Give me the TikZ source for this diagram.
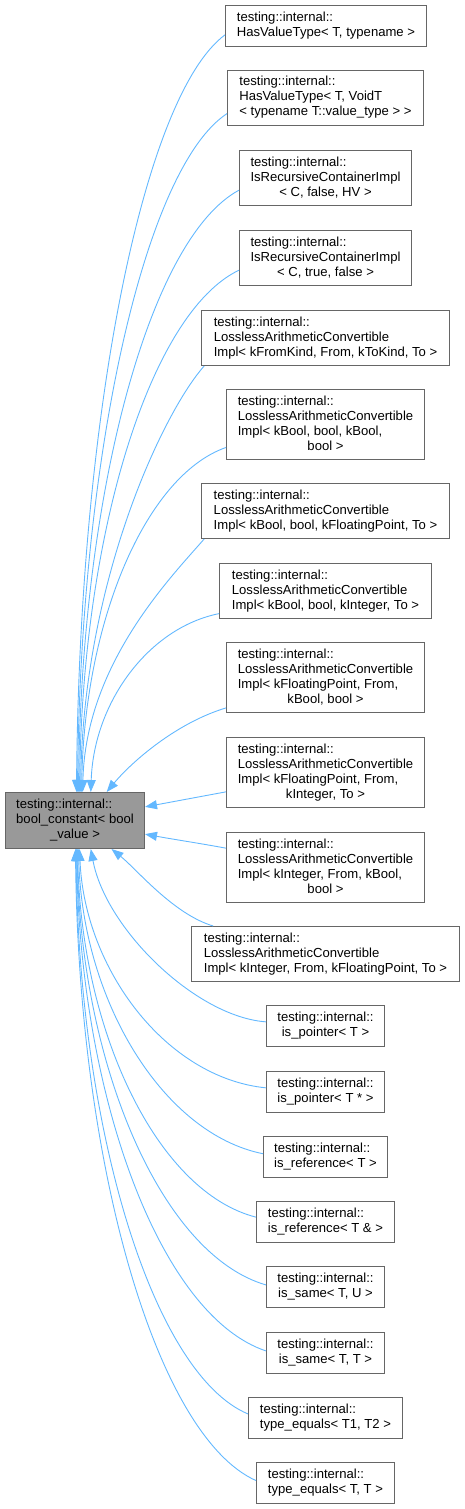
\documentclass[tikz,border=0pt]{standalone}
\usepackage{fontspec}
\setmainfont{Liberation Sans}
\usetikzlibrary{arrows.meta}

\definecolor{edgeblue}{HTML}{63B8FF}
\definecolor{boxline}{HTML}{666666}
\definecolor{basefill}{HTML}{999999}
\newcommand{\lbl}[2]{\begin{tabular}{@{}l@{}}#1\\\multicolumn{1}{@{}c@{}}{#2}\end{tabular}}

\begin{document}
\begin{tikzpicture}[x=1pt,y=-1pt,
		cls/.style={draw=boxline,fill=white,line width=1pt,anchor=north west,inner sep=0pt,
			font=\fontsize{13.1}{15}\selectfont},
		base/.style={cls,fill=basefill},
		derived/.style={draw=edgeblue,line width=0.9pt,-{Triangle[length=12pt,width=9pt]}}]
			\useasboundingbox (0,0) rectangle (464,1509);
			\node[base, minimum width=139pt, minimum height=56pt] (n0) at (5  ,  792) {\lbl{testing::internal::\\bool\_constant< bool}{\_value >}};
			\node[cls, minimum width=201pt, minimum height=41pt] (n1)  at (225,    5) {\lbl{testing::internal::}{HasValueType< T, typename >}};
			\node[cls, minimum width=196pt, minimum height=55pt] (n2)  at (227,   70) {\lbl{testing::internal::\\HasValueType< T, VoidT}{< typename T::value\_type > >}};
			\node[cls, minimum width=172pt, minimum height=55pt] (n3)  at (239,  150) {\lbl{testing::internal::\\IsRecursiveContainerImpl}{< C, false, HV >}};
			\node[cls, minimum width=172pt, minimum height=55pt] (n4)  at (239,  230) {\lbl{testing::internal::\\IsRecursiveContainerImpl}{< C, true, false >}};
			\node[cls, minimum width=248pt, minimum height=55pt] (n5)  at (201,  310) {\lbl{testing::internal::\\LosslessArithmeticConvertible}{Impl< kFromKind, From, kToKind, To >}};
			\node[cls, minimum width=198pt, minimum height=70pt] (n6)  at (226,  389) {\lbl{testing::internal::\\LosslessArithmeticConvertible\\Impl< kBool, bool, kBool,}{bool >}};
			\node[cls, minimum width=248pt, minimum height=55pt] (n7)  at (201,  483) {\lbl{testing::internal::\\LosslessArithmeticConvertible}{Impl< kBool, bool, kFloatingPoint, To >}};
			\node[cls, minimum width=212pt, minimum height=55pt] (n8)  at (219,  563) {\lbl{testing::internal::\\LosslessArithmeticConvertible}{Impl< kBool, bool, kInteger, To >}};
			\node[cls, minimum width=198pt, minimum height=70pt] (n9)  at (226,  642) {\lbl{testing::internal::\\LosslessArithmeticConvertible\\Impl< kFloatingPoint, From,}{kBool, bool >}};
			\node[cls, minimum width=198pt, minimum height=70pt] (n10) at (226,  737) {\lbl{testing::internal::\\LosslessArithmeticConvertible\\Impl< kFloatingPoint, From,}{kInteger, To >}};
			\node[cls, minimum width=198pt, minimum height=70pt] (n11) at (226,  832) {\lbl{testing::internal::\\LosslessArithmeticConvertible\\Impl< kInteger, From, kBool,}{bool >}};
			\node[cls, minimum width=268pt, minimum height=55pt] (n12) at (191,  926) {\lbl{testing::internal::\\LosslessArithmeticConvertible}{Impl< kInteger, From, kFloatingPoint, To >}};
			\node[cls, minimum width=118pt, minimum height=41pt] (n13) at (266, 1005) {\lbl{testing::internal::}{is\_pointer< T >}};
			\node[cls, minimum width=118pt, minimum height=41pt] (n14) at (266, 1071) {\lbl{testing::internal::}{is\_pointer< T * >}};
			\node[cls, minimum width=124pt, minimum height=41pt] (n15) at (263, 1136) {\lbl{testing::internal::}{is\_reference< T >}};
			\node[cls, minimum width=138pt, minimum height=41pt] (n16) at (256, 1201) {\lbl{testing::internal::}{is\_reference< T \& >}};
			\node[cls, minimum width=118pt, minimum height=41pt] (n17) at (266, 1266) {\lbl{testing::internal::}{is\_same< T, U >}};
			\node[cls, minimum width=118pt, minimum height=41pt] (n18) at (266, 1332) {\lbl{testing::internal::}{is\_same< T, T >}};
			\node[cls, minimum width=154pt, minimum height=41pt] (n19) at (248, 1397) {\lbl{testing::internal::}{type\_equals< T1, T2 >}};
			\node[cls, minimum width=138pt, minimum height=41pt] (n20) at (256, 1462) {\lbl{testing::internal::}{type\_equals< T, T >}};

			% child/tip angle/child angle/child control/tip control
			\def\upper {n1/87/185/-82/61/3/-378, n2/85/189/-82/54/3/-340, n3/83/188/-89/48/3/-302,
				n4/81/188/-88/42/3/-262, n5/79/193/-40/45/3/-214, n6/77/193/-80/28/3/-172,
				n7/75/193/-35/40/3/-127, n8/61/192/-70/14/3/-90, n9/42/197/-50/15/25/-30}  % into top side
			\def\side {n10/11/191/-27/5/27/-5, n11/349/169/-27/-5/27/5}  % into right side
			\def\lower {n12/322/166/-40/-12/25/20, n13/299/176/-70/-5/15/80, n14/279/176/-100/-10/5/120,
				n15/277/177/-100/-20/4/152, n16/275/176/-98/-25/4/185, n17/274/178/-104/-30/4/218,
				n18/273/178/-105/-35/4/251, n19/272/177/-95/-40/3/282, n20/271/178/-100/-45/3/316}  % into bottom side
			\foreach \c/\t/\a/\ax/\ay/\bx/\by in \upper
			{	\draw[derived] (\c.\a) .. controls +(\ax,\ay) and +(\bx,\by) .. (n0.\t);
			}
			\foreach \c/\t/\a/\ax/\ay/\bx/\by in \side
			{	\draw[derived] (\c.\a) .. controls +(\ax,\ay) and +(\bx,\by) .. (n0.\t);
			}
			\foreach \c/\t/\a/\ax/\ay/\bx/\by in \lower
			{	\draw[derived] (\c.\a) .. controls +(\ax,\ay) and +(\bx,\by) .. (n0.\t);
			}
		\end{tikzpicture}
\end{document}
